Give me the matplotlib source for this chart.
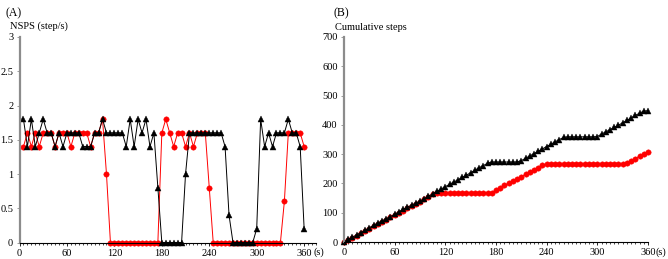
import numpy as np
import matplotlib
matplotlib.use("Agg")
import matplotlib.pyplot as plt
from matplotlib.ticker import MultipleLocator

# NSPS sampled every 5 s (t = 5 ... 360)
t_nsps = list(range(5, 361, 5))
nsps_black = [1.8, 1.4, 1.8, 1.4, 1.6, 1.8, 1.6, 1.6, 1.4, 1.6,
              1.4, 1.6, 1.6, 1.6, 1.6, 1.4, 1.4, 1.4, 1.6, 1.6,
              1.8, 1.6, 1.6, 1.6, 1.6, 1.6, 1.4, 1.8, 1.4, 1.8,
              1.6, 1.8, 1.4, 1.6, 0.8, 0, 0, 0, 0, 0,
              0, 1.0, 1.6, 1.6, 1.6, 1.6, 1.6, 1.6, 1.6, 1.6,
              1.6, 1.4, 0.4, 0, 0, 0, 0, 0, 0, 0.2,
              1.8, 1.4, 1.6, 1.4, 1.6, 1.6, 1.6, 1.8, 1.6, 1.6,
              1.4, 0.2]
nsps_red = [1.4, 1.6, 1.4, 1.6, 1.4, 1.6, 1.6, 1.6, 1.4, 1.6,
            1.6, 1.6, 1.4, 1.6, 1.6, 1.6, 1.6, 1.4, 1.6, 1.6,
            1.8, 1.0, 0, 0, 0, 0, 0, 0, 0, 0,
            0, 0, 0, 0, 0, 1.6, 1.8, 1.6, 1.4, 1.6,
            1.6, 1.4, 1.6, 1.4, 1.6, 1.6, 1.6, 0.8, 0, 0,
            0, 0, 0, 0, 0, 0, 0, 0, 0, 0,
            0, 0, 0, 0, 0, 0, 0.6, 1.6, 1.6, 1.6,
            1.6, 1.4]

# cumulative steps (t = 0 ... 360)
t_cum = list(range(0, 361, 5))
cum_black = [0, 9, 16, 25, 32, 40, 49, 57, 65, 72,
             80, 87, 95, 103, 111, 119, 126, 133, 140, 148,
             156, 165, 173, 181, 189, 197, 205, 212, 221, 228,
             237, 245, 254, 261, 269, 273, 273, 273, 273, 273,
             273, 273, 278, 286, 294, 302, 310, 318, 326, 334,
             342, 350, 357, 359, 359, 359, 359, 359, 359, 359,
             360, 369, 376, 384, 391, 399, 407, 415, 424, 432,
             440, 447, 448]
cum_red = [0, 7, 15, 22, 30, 37, 45, 53, 61, 68,
           76, 84, 92, 99, 107, 115, 123, 131, 138, 146,
           154, 163, 168, 168, 168, 168, 168, 168, 168, 168,
           168, 168, 168, 168, 168, 168, 176, 185, 193, 200,
           208, 216, 223, 231, 238, 246, 254, 262, 266, 266,
           266, 266, 266, 266, 266, 266, 266, 266, 266, 266,
           266, 266, 266, 266, 266, 266, 266, 269, 277, 285,
           293, 301, 308]

x_ticks = [0, 60, 120, 180, 240, 300, 360]

plt.rcParams['font.family'] = ['Liberation Serif', 'DejaVu Serif']

W, H = 668, 259
fig = plt.figure(figsize=(W / 100, H / 100), dpi=100)

axA = fig.add_axes([19.5 / W, 1 - 242.5 / H, (316 - 19.5) / W, (242.5 - 37) / H])
axB = fig.add_axes([344 / W, 1 - 242 / H, (648 - 344) / W, (242 - 37) / H])


def style(ax):
    for s in ['top', 'right']:
        ax.spines[s].set_visible(False)
    ax.spines['left'].set_color('#8c8c8c')
    ax.spines['left'].set_linewidth(1.6)
    ax.spines['bottom'].set_color('black')
    ax.spines['bottom'].set_linewidth(0.8)
    ax.tick_params(axis='both', which='major', labelsize=7.5, length=2.5, width=0.6,
                   direction='out', pad=2)
    ax.tick_params(axis='y', which='major', color='#8c8c8c')
    ax.tick_params(axis='x', which='minor', length=1.5, width=0.5, direction='out')
    ax.xaxis.set_minor_locator(MultipleLocator(5))
    ax.set_xticks(x_ticks)
    ax.set_xticklabels([str(v) for v in x_ticks])


# (A) NSPS
axA.plot(t_nsps, nsps_red, color='red', lw=0.7, marker='o', ms=3.9,
         mfc='red', mec='red', mew=0.3, clip_on=False)
axA.plot(t_nsps, nsps_black, color='black', lw=0.7, marker='^', ms=3.9,
         mfc='black', mec='black', mew=0.3, clip_on=False)
axA.set_xlim(0, 375)
axA.set_ylim(0, 3)
axA.set_yticks([0, 0.5, 1, 1.5, 2, 2.5, 3])
axA.set_yticklabels(['0', '0.5', '1', '1.5', '2', '2.5', '3'])
style(axA)

# (B) cumulative steps
axB.plot(t_cum, cum_red, color='red', lw=0.7, marker='o', ms=3.9,
         mfc='red', mec='red', mew=0.3, clip_on=False)
axB.plot(t_cum, cum_black, color='black', lw=0.7, marker='^', ms=3.9,
         mfc='black', mec='black', mew=0.3, clip_on=False)
axB.set_xlim(0, 360)
axB.set_ylim(0, 700)
axB.set_yticks(range(0, 701, 100))
style(axB)

# panel letters, axis titles and the unit after 360
fig.text(5 / W, 1 - 13 / H, '(A)', fontsize=8.5, va='center', ha='left')
fig.text(10 / W, 1 - 26 / H, 'NSPS (step/s)', fontsize=7.5, va='center', ha='left')
fig.text(333 / W, 1 - 13 / H, '(B)', fontsize=8.5, va='center', ha='left')
fig.text(335 / W, 1 - 28 / H, 'Cumulative steps', fontsize=7.5, va='center', ha='left')
fig.text(314 / W, 1 - 252 / H, '(s)', fontsize=7.5, va='center', ha='left')
fig.text(656 / W, 1 - 252 / H, '(s)', fontsize=7.5, va='center', ha='left')

fig.savefig('out.png', dpi=100)
